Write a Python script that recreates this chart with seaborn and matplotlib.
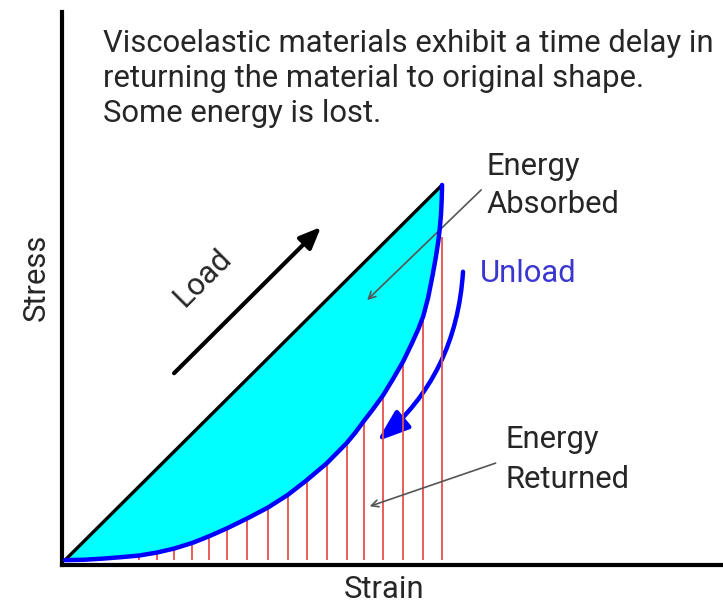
import numpy as np
import pandas as pd
import seaborn as sns
import matplotlib.pyplot as plt
from matplotlib.patches import FancyArrowPatch

sns.set_style("white")
plt.rcParams['font.family'] = ['Roboto', 'DejaVu Sans']

# loading path (straight line) and unloading path
load_x = [0.0, 1.0]
load_y = [0.0, 1.0]
unload_x = [0.0, 0.05, 0.10, 0.15, 0.195, 0.243, 0.290, 0.338, 0.383, 0.430, 0.483,
            0.538, 0.591, 0.641, 0.694, 0.747, 0.770, 0.792, 0.818, 0.844, 0.870,
            0.897, 0.920, 0.937, 0.950, 0.963, 0.975, 0.983, 0.990, 0.994, 0.997,
            0.999, 1.0]
unload_y = [0.0, 0.001, 0.004, 0.008, 0.012, 0.020, 0.031, 0.046, 0.064, 0.085, 0.111,
            0.140, 0.174, 0.213, 0.258, 0.312, 0.340, 0.370, 0.404, 0.440, 0.483,
            0.530, 0.578, 0.616, 0.650, 0.700, 0.760, 0.805, 0.850, 0.885, 0.920,
            0.960, 1.0]

# red hatching under the unload curve
hatch_x = [0.195, 0.243, 0.290, 0.338, 0.383, 0.430, 0.483, 0.538, 0.591, 0.641,
           0.694, 0.747, 0.792, 0.844, 0.897, 0.950, 1.0]
hatch_top = [0.012, 0.020, 0.031, 0.046, 0.064, 0.085, 0.111, 0.140, 0.174, 0.213,
             0.258, 0.312, 0.370, 0.440, 0.530, 0.650, 0.860]

note_lines = ["Viscoelastic materials exhibit a time delay in",
              "returning the material to original shape.",
              "Some energy is lost."]

fig = plt.figure(figsize=(7.23, 6.04), dpi=100)
ax = fig.add_axes([62 / 723, 39 / 604, 661 / 723, 553 / 604])

# area between load and unload = absorbed energy
ax.fill_between(unload_x, unload_x, unload_y, color="#00ffff", lw=0, zorder=1)
ax.vlines(hatch_x, 0, hatch_top, color="#e5504c", lw=1.3, zorder=2)

sns.lineplot(x=load_x, y=load_y, color="black", lw=2.4, ax=ax, zorder=3)
sns.lineplot(x=unload_x, y=unload_y, sort=False, color="#0000ff", lw=3.2, ax=ax,
             zorder=4, solid_capstyle="round", solid_joinstyle="round")

ax.set_xlim(-0.008, 1.745)
ax.set_ylim(-0.013, 1.461)
ax.set_xticks([])
ax.set_yticks([])
for s in ["top", "right"]:
    ax.spines[s].set_visible(False)
for s in ["left", "bottom"]:
    ax.spines[s].set_linewidth(3)
    ax.spines[s].set_color("black")

fs = 22.3
ink = "#262626"
for txt, yb in zip(note_lines, [1.355, 1.261, 1.168]):
    ax.text(0.101, yb, txt, fontsize=fs, color=ink, va="baseline", ha="left")

ax.text(1.119, 1.027, "Energy", fontsize=fs, color=ink, va="baseline")
ax.text(1.119, 0.925, "Absorbed", fontsize=fs, color=ink, va="baseline")
ax.text(1.101, 0.741, "Unload", fontsize=fs, color="#3a36d0", va="baseline")
ax.text(1.167, 0.299, "Energy", fontsize=fs, color=ink, va="baseline")
ax.text(1.167, 0.192, "Returned", fontsize=fs, color=ink, va="baseline")
ax.text(0.846, -0.101, "Strain", fontsize=fs, color=ink, va="baseline", ha="center")
ax.text(-0.075, 0.755, "Stress", fontsize=fs, color=ink, rotation=90,
        va="center", ha="center")
ax.text(0.366, 0.752, "Load", fontsize=fs, color=ink, rotation=45,
        va="center", ha="center", rotation_mode="anchor")

# arrows
ax.annotate("", xy=(0.684, 0.893), xytext=(0.284, 0.493),
            arrowprops=dict(arrowstyle="-|>,head_length=1.3,head_width=0.55",
                            color="black", lw=3))
ax.annotate("", xy=(0.796, 0.688), xytext=(1.109, 0.992),
            arrowprops=dict(arrowstyle="->,head_length=0.5,head_width=0.25",
                            color="#555555", lw=1.2))
ax.annotate("", xy=(0.801, 0.141), xytext=(1.149, 0.261),
            arrowprops=dict(arrowstyle="->,head_length=0.5,head_width=0.25",
                            color="#555555", lw=1.2))
unload_arrow = FancyArrowPatch((1.056, 0.776), (0.822, 0.312),
                               connectionstyle="arc3,rad=-0.22",
                               arrowstyle="-|>,head_length=1.4,head_width=0.5",
                               color="#0000ff", lw=3.2, mutation_scale=14)
ax.add_patch(unload_arrow)

fig.savefig("out.png", dpi=100)
